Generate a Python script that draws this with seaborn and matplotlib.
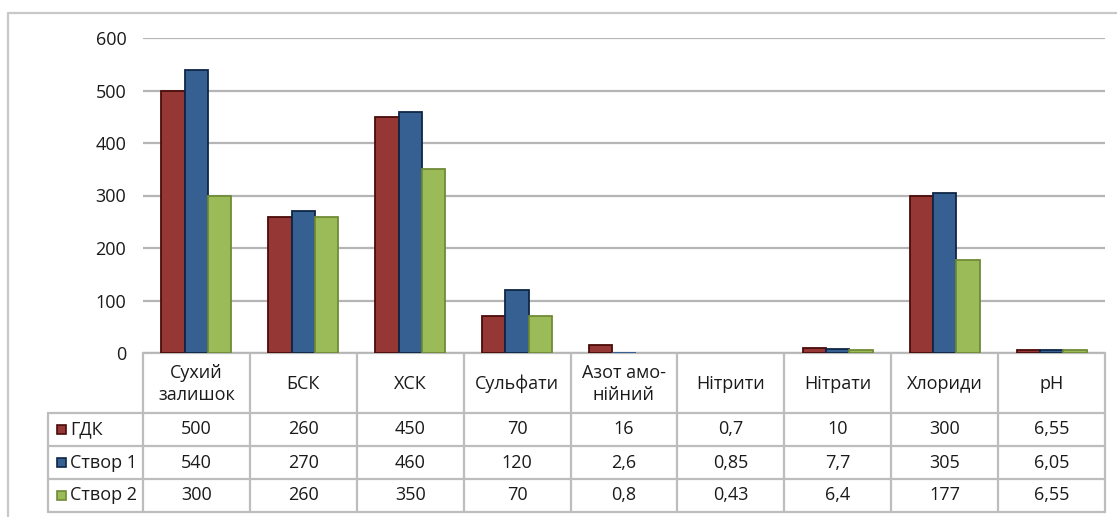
import numpy as np
import pandas as pd
import matplotlib
matplotlib.use("Agg")
import matplotlib.pyplot as plt
import matplotlib.transforms as mtransforms
from matplotlib.patches import Rectangle
import seaborn as sns

# Water quality indicators and their values
categories = ["Сухий\nзалишок", "БСК", "ХСК", "Сульфати", "Азот амо-\nнійний",
              "Нітрити", "Нітрати", "Хлориди", "pH"]
series_names = ["ГДК", "Створ 1", "Створ 2"]
gdk = [500, 260, 450, 70, 16, 0.7, 10, 300, 6.55]
stvor1 = [540, 270, 460, 120, 2.6, 0.85, 7.7, 305, 6.05]
stvor2 = [300, 260, 350, 70, 0.8, 0.43, 6.4, 177, 6.55]
y_ticks = [0, 100, 200, 300, 400, 500, 600]

fill_colors = ["#953735", "#376092", "#9BBB59"]
edge_colors = ["#4a0b09", "#0e2646", "#6f8b36"]
grid_color = "#b5b5b5"
line_color = "#bdbdbd"
text_color = "#1a1a1a"
fs = 13

sns.set_theme(style="white")
plt.rcParams["font.family"] = ["Open Sans", "DejaVu Sans"]

rows = []
for name, vals in zip(series_names, [gdk, stvor1, stvor2]):
    for cat, v in zip(categories, vals):
        rows.append({"category": cat, "value": v, "series": name})
df = pd.DataFrame(rows)

W, H = 1117, 517
fig = plt.figure(figsize=(W / 100, H / 100), dpi=100)
ax = fig.add_axes([143 / W, 1 - 353 / H, (1105 - 143) / W, (353 - 38) / H])

sns.barplot(data=df, x="category", y="value", hue="series", order=categories,
            hue_order=series_names, palette=fill_colors, saturation=1,
            width=0.655, legend=False, ax=ax, zorder=3)
for cont, ec in zip(ax.containers, edge_colors):
    for bar in cont:
        bar.set_edgecolor(ec)
        # bars only a pixel or two tall show no outline
        bar.set_linewidth(1.3 if bar.get_height() >= 3 else 0)

ax.set_xlim(-0.5, len(categories) - 0.5)
ax.set_ylim(0, 600)
ax.set_yticks(y_ticks)
ax.set_yticklabels([str(t) for t in y_ticks])
ax.tick_params(axis="y", length=0, pad=12, labelsize=fs, labelcolor=text_color)
ax.tick_params(axis="x", length=0, labelbottom=False)
ax.set_xlabel("")
ax.set_ylabel("")
ax.yaxis.grid(True, color=grid_color, linewidth=1.6)
ax.set_axisbelow(True)
for s in ax.spines.values():
    s.set_visible(False)
ax.patch.set_alpha(0)

# Overlay in pixel units for the data table and frame
ov = fig.add_axes([0, 0, 1, 1], zorder=-1)
ov.set_xlim(0, W)
ov.set_ylim(H, 0)
ov.axis("off")
trans = mtransforms.blended_transform_factory(ax.transData, ov.transData)

# Chart frame
ov.plot([8, 8, W], [H, 13, 13], color="#c8c8c8", lw=1.6, solid_capstyle="butt")

n = len(categories)
x_left, x_right = -0.5, n - 0.5
header_top, row_lines = 353, [413, 446, 479, 512]
legend_left = 48

# Table grid
ov.plot([x_left, x_right], [header_top, header_top], color=line_color, lw=1.6,
        transform=trans, clip_on=False)
for yl in row_lines:
    ov.plot([legend_left, 143], [yl, yl], color=line_color, lw=1.6, clip_on=False)
    ov.plot([x_left, x_right], [yl, yl], color=line_color, lw=1.6,
            transform=trans, clip_on=False)
ov.plot([legend_left, legend_left], [row_lines[0], row_lines[-1]],
        color=line_color, lw=1.6, clip_on=False)
for i in range(n + 1):
    xb = i - 0.5
    ov.plot([xb, xb], [header_top, row_lines[-1]], color=line_color, lw=1.6,
            transform=trans, clip_on=False)

# Header labels
for i, cat in enumerate(categories):
    ov.text(i, (header_top + row_lines[0]) / 2 + 1, cat, transform=trans,
            ha="center", va="center", fontsize=fs, color=text_color,
            linespacing=1.25)

# Value rows with legend keys
def fmt(v):
    return f"{v:g}".replace(".", ",")

for r, (name, vals) in enumerate(zip(series_names, [gdk, stvor1, stvor2])):
    yc = (row_lines[r] + row_lines[r + 1]) / 2
    ov.add_patch(Rectangle((57, yc - 5), 9, 9, facecolor=fill_colors[r],
                           edgecolor=edge_colors[r], lw=1.2))
    ov.text(70, yc, name, ha="left", va="center", fontsize=fs, color=text_color)
    for i, v in enumerate(vals):
        ov.text(i, yc, fmt(v), transform=trans, ha="center", va="center",
                fontsize=fs, color=text_color)

fig.savefig("out.png", dpi=100)
